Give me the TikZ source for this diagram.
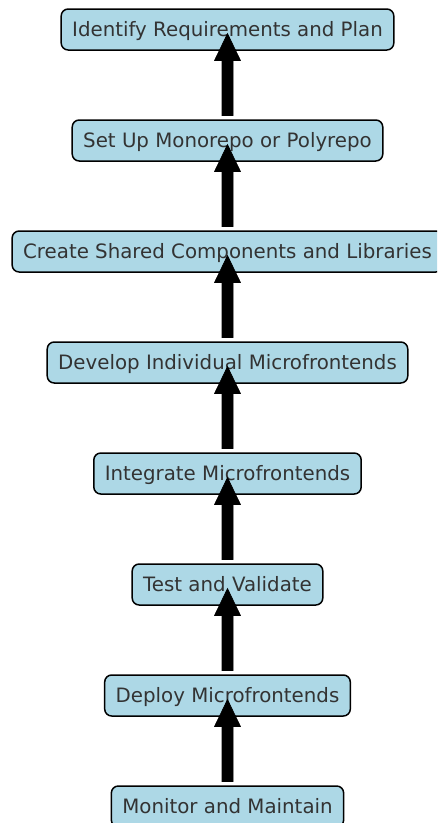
\documentclass[tikz,border=0pt]{standalone}
\usepackage{fontspec}
\setmainfont{DejaVu Sans}
\usetikzlibrary{calc}
\definecolor{boxfill}{RGB}{173,216,230}
\definecolor{boxtext}{RGB}{51,51,51}
\tikzset{
  stepbox/.style={draw=black, fill=boxfill, line width=1.5pt, rounded corners=7pt,
    minimum height=41pt, inner xsep=11pt, inner ysep=0pt, text=boxtext,
    text height=15pt, text depth=2pt,
    font=\fontsize{19.8pt}{24pt}\selectfont, anchor=center},
  flowarrow/.style={fill=black, draw=black, line width=0.6pt, line join=miter}
}
\begin{document}
\begin{tikzpicture}[x=1pt, y=1pt]
  \useasboundingbox (0,0) rectangle (437,-823);
  \clip (0,0) rectangle (437,-823);
  % process steps, top to bottom
  \node[stepbox] (s1) at (227.5,-29.5)  {Identify Requirements and Plan};
  \node[stepbox] (s2) at (227.5,-140.5) {Set Up Monorepo or Polyrepo};
  \node[stepbox] (s3) at (227.5,-251.5) {Create Shared Components and Libraries};
  \node[stepbox] (s4) at (227.5,-362.5) {Develop Individual Microfrontends};
  \node[stepbox] (s5) at (227.5,-473.5) {Integrate Microfrontends};
  \node[stepbox] (s6) at (227.5,-584.5) {Test and Validate};
  \node[stepbox] (s7) at (227.5,-695.5) {Deploy Microfrontends};
  \node[stepbox] (s8) at (227.5,-806.5) {Monitor and Maintain};
  % thick arrows pointing from each step up to the one above it
  \foreach \lo/\hi in {s2/s1, s3/s2, s4/s3, s5/s4, s6/s5, s7/s6, s8/s7} {
    \filldraw[flowarrow]
      ($(\lo.center)+(-5.5,25)$) -- ($(\hi.center)+(-5.5,-31)$)
      -- ($(\hi.center)+(-13,-31)$) -- ($(\hi.center)+(0,-4)$)
      -- ($(\hi.center)+(13,-31)$) -- ($(\hi.center)+(5.5,-31)$)
      -- ($(\lo.center)+(5.5,25)$) -- cycle;
  }
\end{tikzpicture}
\end{document}
